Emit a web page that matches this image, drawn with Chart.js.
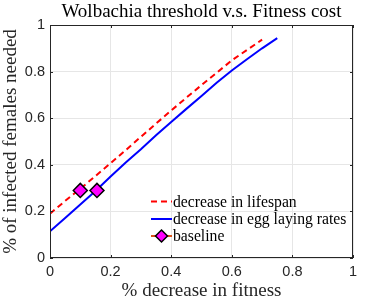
<!DOCTYPE html>
<html>
<head>
<meta charset="utf-8">
<script src="https://cdn.jsdelivr.net/npm/chart.js@4.4.1/dist/chart.umd.min.js"></script>
<style>
  html, body { margin: 0; padding: 0; background: #fff; }
  #wrap { width: 390px; height: 304px; }
</style>
</head>
<body>
<div id="wrap"><canvas id="chart"></canvas></div>
<script>
// values
const fitness = [0, 0.05, 0.1, 0.15, 0.2, 0.25, 0.3, 0.35, 0.4, 0.45, 0.5, 0.55, 0.6, 0.65, 0.7, 0.75];
const lifespanNeeded = [0.19, 0.245, 0.297, 0.352, 0.407, 0.463, 0.52, 0.577, 0.633, 0.688, 0.742, 0.795, 0.848, 0.893, 0.937];
const eggNeeded = [0.115, 0.172, 0.23, 0.288, 0.35, 0.41, 0.467, 0.527, 0.584, 0.64, 0.695, 0.752, 0.805, 0.853, 0.9, 0.944];
const baselineX = [0.1, 0.155];
const baselineY = [0.29, 0.29];
const tickVals = [0, 0.2, 0.4, 0.6, 0.8, 1];
const chartTitle = 'Wolbachia threshold v.s. Fitness cost';

const serif = "'Liberation Serif', 'DejaVu Serif', serif";
const sans = "'Liberation Sans', Arial, sans-serif";

const toPoints = (xs, ys) => ys.map((y, i) => ({ x: xs[i], y: y }));

// title over the axes, box, inward ticks and legend inside the plot area
const decorPlugin = {
    id: 'decor',
    afterDraw(chart) {
        const { ctx, chartArea: a, scales } = chart;
        ctx.save();
        ctx.font = '19px ' + serif;
        ctx.fillStyle = '#000';
        ctx.textAlign = 'center';
        ctx.textBaseline = 'middle';
        ctx.fillText(chartTitle, (a.left + a.right) / 2, 12);

        ctx.strokeStyle = '#262626';
        ctx.lineWidth = 1;
        ctx.strokeRect(a.left + 0.5, a.top + 0.5, a.right - a.left - 1, a.bottom - a.top - 1);
        tickVals.forEach(v => {
            const px = Math.round(scales.x.getPixelForValue(v)) + 0.5;
            const py = Math.round(scales.y.getPixelForValue(v)) + 0.5;
            ctx.beginPath();
            ctx.moveTo(px, a.bottom); ctx.lineTo(px, a.bottom - 3);
            ctx.moveTo(px, a.top); ctx.lineTo(px, a.top + 3);
            ctx.moveTo(a.left, py); ctx.lineTo(a.left + 3, py);
            ctx.moveTo(a.right, py); ctx.lineTo(a.right - 3, py);
            ctx.stroke();
        });

        // legend
        const x0 = 151, x1 = 172;
        const rows = [201.5, 219, 236];
        const ds = chart.data.datasets;
        ctx.font = '15.7px ' + serif;
        ctx.textAlign = 'left';
        ctx.fillStyle = '#000';
        ds.forEach((d, i) => {
            const y = rows[i];
            ctx.save();
            ctx.lineWidth = 2;
            ctx.strokeStyle = d.legendLine || d.borderColor;
            ctx.setLineDash(d.borderDash || []);
            ctx.beginPath();
            ctx.moveTo(x0, y); ctx.lineTo(x1, y);
            ctx.stroke();
            ctx.restore();
            if (d.legendLine) {
                const r = 6;
                const cx = (x0 + x1) / 2;
                ctx.save();
                ctx.beginPath();
                ctx.moveTo(cx, y - r); ctx.lineTo(cx + r, y); ctx.lineTo(cx, y + r); ctx.lineTo(cx - r, y);
                ctx.closePath();
                ctx.fillStyle = d.pointBackgroundColor;
                ctx.fill();
                ctx.lineWidth = 1.5;
                ctx.strokeStyle = '#000';
                ctx.stroke();
                ctx.restore();
            }
            ctx.fillText(d.label, x1 + 1, y + 1);
        });
        ctx.restore();
    }
};

const ctx = document.getElementById('chart').getContext('2d');
new Chart(ctx, {
    type: 'line',
    data: {
        datasets: [
            {
                label: 'decrease in lifespan',
                data: toPoints(fitness, lifespanNeeded),
                borderColor: '#FF0000',
                borderWidth: 2,
                borderDash: [6, 4],
                pointRadius: 0,
                tension: 0,
                order: 2
            },
            {
                label: 'decrease in egg laying rates',
                data: toPoints(fitness, eggNeeded),
                borderColor: '#0000FF',
                borderWidth: 2,
                pointRadius: 0,
                tension: 0,
                order: 1
            },
            {
                label: 'baseline',
                data: toPoints(baselineX, baselineY),
                showLine: false,
                legendLine: '#D95319',
                borderColor: '#000',
                pointStyle: 'rectRot',
                pointRadius: 7,
                pointBorderWidth: 1.5,
                pointBackgroundColor: '#FF00FF',
                pointBorderColor: '#000',
                order: 0
            }
        ]
    },
    options: {
        responsive: true,
        maintainAspectRatio: false,
        animation: false,
        layout: { padding: { left: 0, right: 37, top: 25, bottom: 0 } },
        plugins: {
            legend: { display: false },
            tooltip: { enabled: false }
        },
        scales: {
            x: {
                type: 'linear',
                min: 0,
                max: 1,
                afterFit: s => { s.height = 46; },
                afterBuildTicks: s => { s.ticks = tickVals.map(v => ({ value: v })); },
                grid: { color: '#E6E6E6', drawTicks: false },
                border: { display: false },
                ticks: {
                    color: '#262626',
                    padding: 5,
                    maxRotation: 0,
                    font: { family: sans, size: 14.5 },
                    callback: v => String(v)
                },
                title: {
                    display: true,
                    text: '% decrease in fitness',
                    color: '#262626',
                    font: { family: serif, size: 19 },
                    padding: { top: 0, bottom: 2 }
                }
            },
            y: {
                min: 0,
                max: 1,
                afterFit: s => { s.width = 50; },
                afterBuildTicks: s => { s.ticks = tickVals.map(v => ({ value: v })); },
                grid: { color: '#E6E6E6', drawTicks: false },
                border: { display: false },
                ticks: {
                    color: '#262626',
                    padding: 5,
                    font: { family: sans, size: 14.5 },
                    callback: v => String(v)
                },
                title: {
                    display: true,
                    text: '% of infected females needed',
                    color: '#262626',
                    font: { family: serif, size: 19 },
                    padding: { top: 0, bottom: 0 }
                }
            }
        }
    },
    plugins: [decorPlugin]
});
</script>
</body>
</html>
